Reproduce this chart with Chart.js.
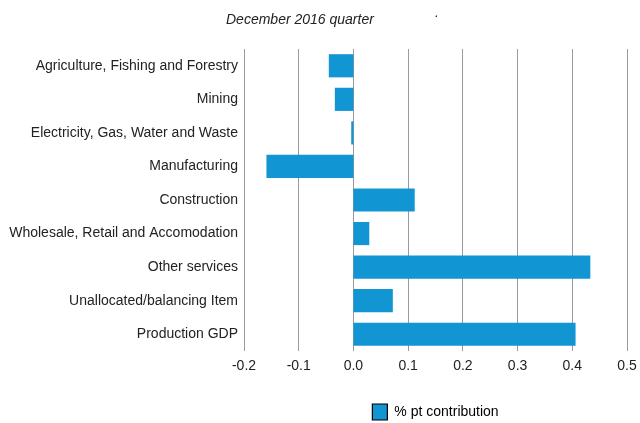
<!DOCTYPE html>
<html><head><meta charset="utf-8">
<script src="https://cdn.jsdelivr.net/npm/chart.js@4/dist/chart.umd.min.js"></script>
<style>html,body{margin:0;padding:0;background:#fff}#wrap{width:640px;height:423px}</style>
</head><body><div id="wrap"><canvas id="c" width="640" height="423"></canvas></div>
<script>
const categories = ["Agriculture, Fishing and Forestry","Mining","Electricity, Gas, Water and Waste","Manufacturing","Construction","Wholesale, Retail and Accomodation","Other services","Unallocated/balancing Item","Production GDP"];
const contributions = [-0.045,-0.034,-0.004,-0.159,0.112,0.029,0.433,0.072,0.406];
const seriesName = "% pt contribution";
const titleText = "December 2016 quarter";
const FONT = "'Liberation Sans', Arial, sans-serif";

const titlePlugin = {
  id: 'titleText',
  afterDraw(chart) {
    const ctx = chart.ctx;
    ctx.save();
    ctx.fillStyle = '#222';
    ctx.font = "italic 14px " + FONT;
    ctx.textBaseline = 'middle';
    ctx.textAlign = 'left';
    ctx.fillText(titleText, 226, 20);
    ctx.fillText('.', 435, 13);
    ctx.restore();
  }
};

new Chart(document.getElementById('c'), {
  type: 'bar',
  data: {
    labels: categories,
    datasets: [{
      label: seriesName,
      data: contributions,
      backgroundColor: '#1195d3',
      borderWidth: 0,
      categoryPercentage: 1,
      barPercentage: 0.69
    }]
  },
  options: {
    indexAxis: 'y',
    responsive: false,
    animation: false,
    devicePixelRatio: 1,
    layout: { padding: { top: 49, right: 13, left: 0, bottom: -7 } },
    plugins: {
      title: { display: false },
      tooltip: { enabled: false },
      legend: {
        position: 'bottom',
        fullSize: false,
        labels: {
          font: { family: FONT, size: 14 },
          color: '#222',
          boxWidth: 15,
          boxHeight: 16,
          padding: 4,
          generateLabels(chart) {
            return [{ text: seriesName, fillStyle: '#1195d3', strokeStyle: '#000', lineWidth: 1.2, datasetIndex: 0 }];
          }
        }
      }
    },
    scales: {
      x: {
        min: -0.2, max: 0.5,
        ticks: { stepSize: 0.1, color: '#222', font: { family: FONT, size: 14 }, padding: 7,
          callback: v => (Math.round(v * 10) / 10).toFixed(1) },
        grid: { color: '#9a9a9a', lineWidth: 1, drawTicks: false },
        border: { display: false },
        afterFit(s) { s.height = 49; s.paddingLeft = 0; s.paddingRight = 0; }
      },
      y: {
        ticks: { color: '#222', font: { family: FONT, size: 14 }, padding: 6, autoSkip: false },
        grid: { display: false, drawTicks: false },
        border: { display: false },
        afterFit(s) { s.width = 244; }
      }
    }
  },
  plugins: [titlePlugin]
});
</script></body></html>
